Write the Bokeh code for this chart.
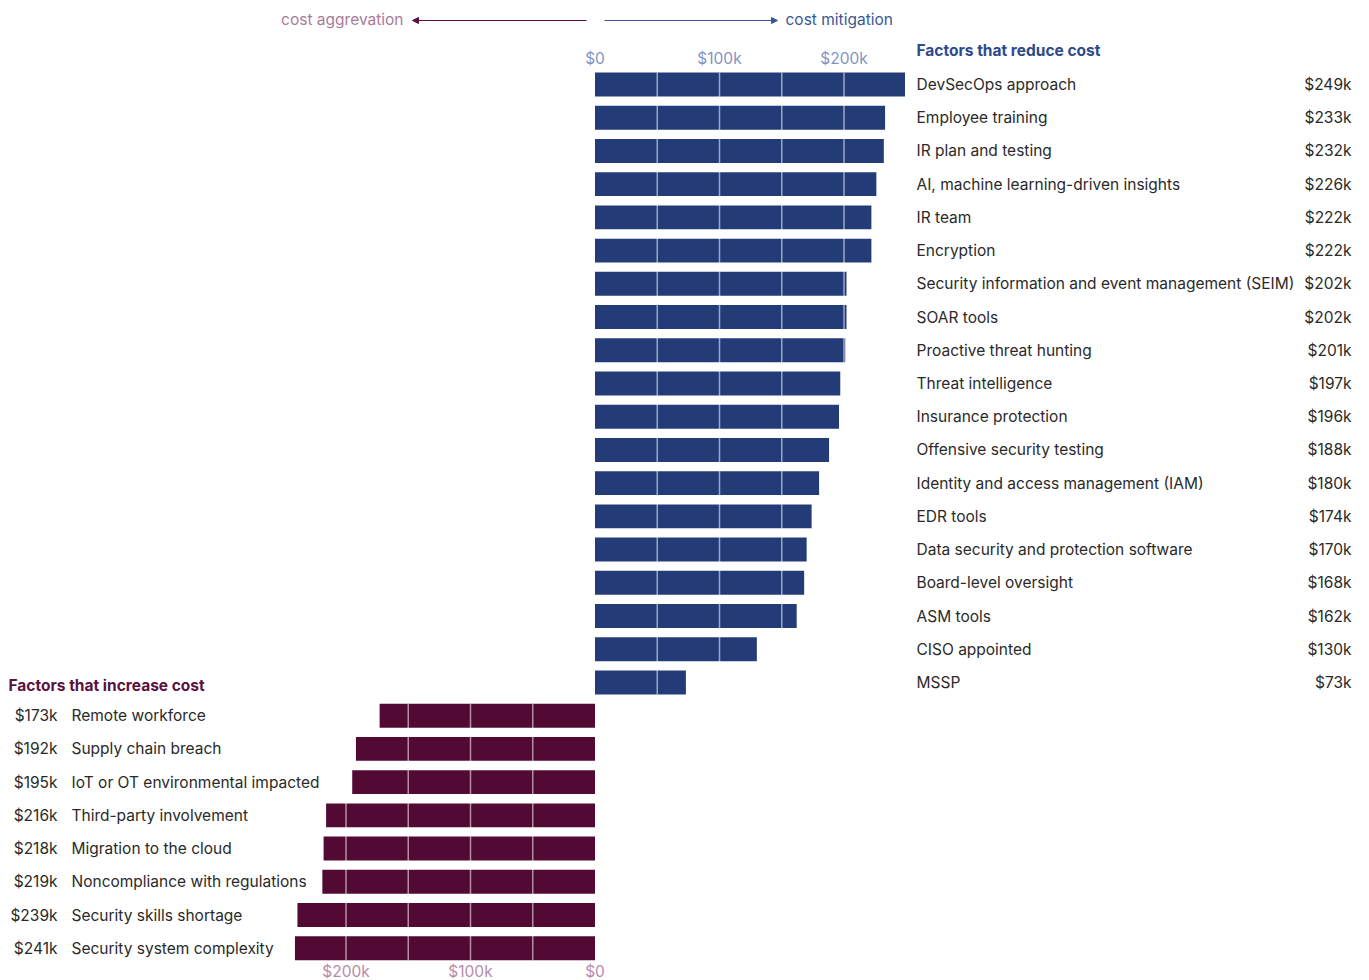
from bokeh.plotting import figure
from bokeh.models import (ColumnDataSource, Range1d, LinearAxis, FixedTicker,
                          Arrow, NormalHead)
from bokeh.core.properties import value
from bokeh.embed import file_html
from bokeh.resources import INLINE

# ---------------- data ----------------
reduce_labels = ["DevSecOps approach", "Employee training", "IR plan and testing",
                 "AI, machine learning-driven insights", "IR team", "Encryption",
                 "Security information and event management (SEIM)", "SOAR tools",
                 "Proactive threat hunting", "Threat intelligence", "Insurance protection",
                 "Offensive security testing", "Identity and access management (IAM)",
                 "EDR tools", "Data security and protection software",
                 "Board-level oversight", "ASM tools", "CISO appointed", "MSSP"]
reduce_values = [249, 233, 232, 226, 222, 222, 202, 202, 201, 197, 196, 188, 180,
                 174, 170, 168, 162, 130, 73]

increase_labels = ["Remote workforce", "Supply chain breach",
                   "IoT or OT environmental impacted", "Third-party involvement",
                   "Migration to the cloud", "Noncompliance with regulations",
                   "Security skills shortage", "Security system complexity"]
increase_values = [173, 192, 195, 216, 218, 219, 239, 241]

top_ticks = [0, 100, 200]
top_tick_labels = ["$0", "$100k", "$200k"]
bottom_ticks = [-200, -100, 0]
bottom_tick_labels = ["$200k", "$100k", "$0"]
grid_steps = [50, 100, 150, 200]

# ---------------- styling ----------------
W, H = 1369, 980
ZERO_PX = 594.5
PX_PER_K = 1.245
ROW0_PX = 84.0
ROW_PX = 33.22

BLUE = "#233c78"
MAROON = "#520a34"
TEXT = "#2a2a2a"
FONT = value("Inter")
FS = "15.5px"

def xd(px):
    return (px - ZERO_PX) / PX_PER_K

def yd(px):
    return (px - ROW0_PX) / ROW_PX

p = figure(width=W, height=H, output_backend="svg", toolbar_location=None,
           x_axis_location=None, y_axis_location=None, min_border=0,
           x_range=Range1d(xd(0), xd(W)), y_range=Range1d(yd(H), yd(0)))
p.outline_line_color = None
p.grid.visible = False
p.background_fill_color = "white"
p.border_fill_color = "white"

n_top = len(reduce_values)
rows_top = list(range(n_top))
rows_bot = [n_top + i for i in range(len(increase_values))]

top_src = ColumnDataSource(dict(
    y=rows_top, right=reduce_values, label=reduce_labels,
    val=[f"${v}k" for v in reduce_values]))
bot_src = ColumnDataSource(dict(
    y=rows_bot, left=[-v for v in increase_values], label=increase_labels,
    val=[f"${v}k" for v in increase_values]))

BAR_H = 0.72
p.hbar(y="y", left=0, right="right", height=BAR_H, source=top_src,
       fill_color=BLUE, line_color=None)
p.hbar(y="y", left="left", right=0, height=BAR_H, source=bot_src,
       fill_color=MAROON, line_color=None)

# light grid lines over the bars
p.segment(x0=grid_steps, x1=grid_steps, y0=[-BAR_H / 2] * 4,
          y1=[rows_top[-1] + BAR_H / 2] * 4, line_color="white", line_alpha=0.55,
          line_width=1.5)
neg = [-g for g in grid_steps]
p.segment(x0=neg, x1=neg, y0=[rows_bot[0] - BAR_H / 2] * 4,
          y1=[rows_bot[-1] + BAR_H / 2] * 4, line_color="white", line_alpha=0.55,
          line_width=1.5)

# right-side labels
p.text(x=xd(916), y="y", text="label", source=top_src, text_font=FONT,
       text_font_size=FS, text_color=TEXT, text_baseline="middle", text_align="left")
p.text(x=xd(1351), y="y", text="val", source=top_src, text_font=FONT,
       text_font_size=FS, text_color=TEXT, text_baseline="middle", text_align="right")
# left-side labels
p.text(x=xd(57), y="y", text="val", source=bot_src, text_font=FONT,
       text_font_size=FS, text_color=TEXT, text_baseline="middle", text_align="right")
p.text(x=xd(71), y="y", text="label", source=bot_src, text_font=FONT,
       text_font_size=FS, text_color=TEXT, text_baseline="middle", text_align="left")

# group titles
p.text(x=[xd(916)], y=[yd(50)], text=["Factors that reduce cost"], text_font=FONT,
       text_font_size=FS, text_color="#2d4a8c", text_baseline="middle",
       text_align="left", text_font_style="bold")
p.text(x=[xd(8)], y=[yd(685)], text=["Factors that increase cost"], text_font=FONT,
       text_font_size=FS, text_color="#5a1240", text_baseline="middle",
       text_align="left", text_font_style="bold")

# direction arrows
p.add_layout(Arrow(end=NormalHead(size=6, fill_color="#5b1040", line_color="#5b1040"),
                   x_start=xd(586), x_end=xd(412), y_start=yd(20), y_end=yd(20),
                   line_color="#5b1040", line_width=1.2))
p.add_layout(Arrow(end=NormalHead(size=6, fill_color="#3b5797", line_color="#3b5797"),
                   x_start=xd(604), x_end=xd(777), y_start=yd(20), y_end=yd(20),
                   line_color="#3b5797", line_width=1.2))
p.text(x=[xd(403)], y=[yd(19)], text=["cost aggrevation"], text_font=FONT,
       text_font_size=FS, text_color="#a97a98", text_baseline="middle",
       text_align="right")
p.text(x=[xd(785)], y=[yd(19)], text=["cost mitigation"], text_font=FONT,
       text_font_size=FS, text_color="#3b5797", text_baseline="middle",
       text_align="left")

# axes
top_axis = LinearAxis(ticker=FixedTicker(ticks=top_ticks), fixed_location=yd(69),
                      major_label_overrides={t: l for t, l in zip(top_ticks, top_tick_labels)})
bot_axis = LinearAxis(ticker=FixedTicker(ticks=bottom_ticks), fixed_location=yd(959),
                      major_label_overrides={t: l for t, l in zip(bottom_ticks, bottom_tick_labels)})
for ax, col in ((top_axis, "#8393c2"), (bot_axis, "#b98aa9")):
    ax.axis_line_color = None
    ax.major_tick_line_color = None
    ax.minor_tick_line_color = None
    ax.major_tick_out = 0
    ax.major_tick_in = 0
    ax.major_label_standoff = 2
    ax.major_label_text_font = "Inter"
    ax.major_label_text_font_size = FS
    ax.major_label_text_color = col
p.add_layout(top_axis, "above")
p.add_layout(bot_axis, "below")

open("out.html", "w").write(file_html(p, INLINE))
